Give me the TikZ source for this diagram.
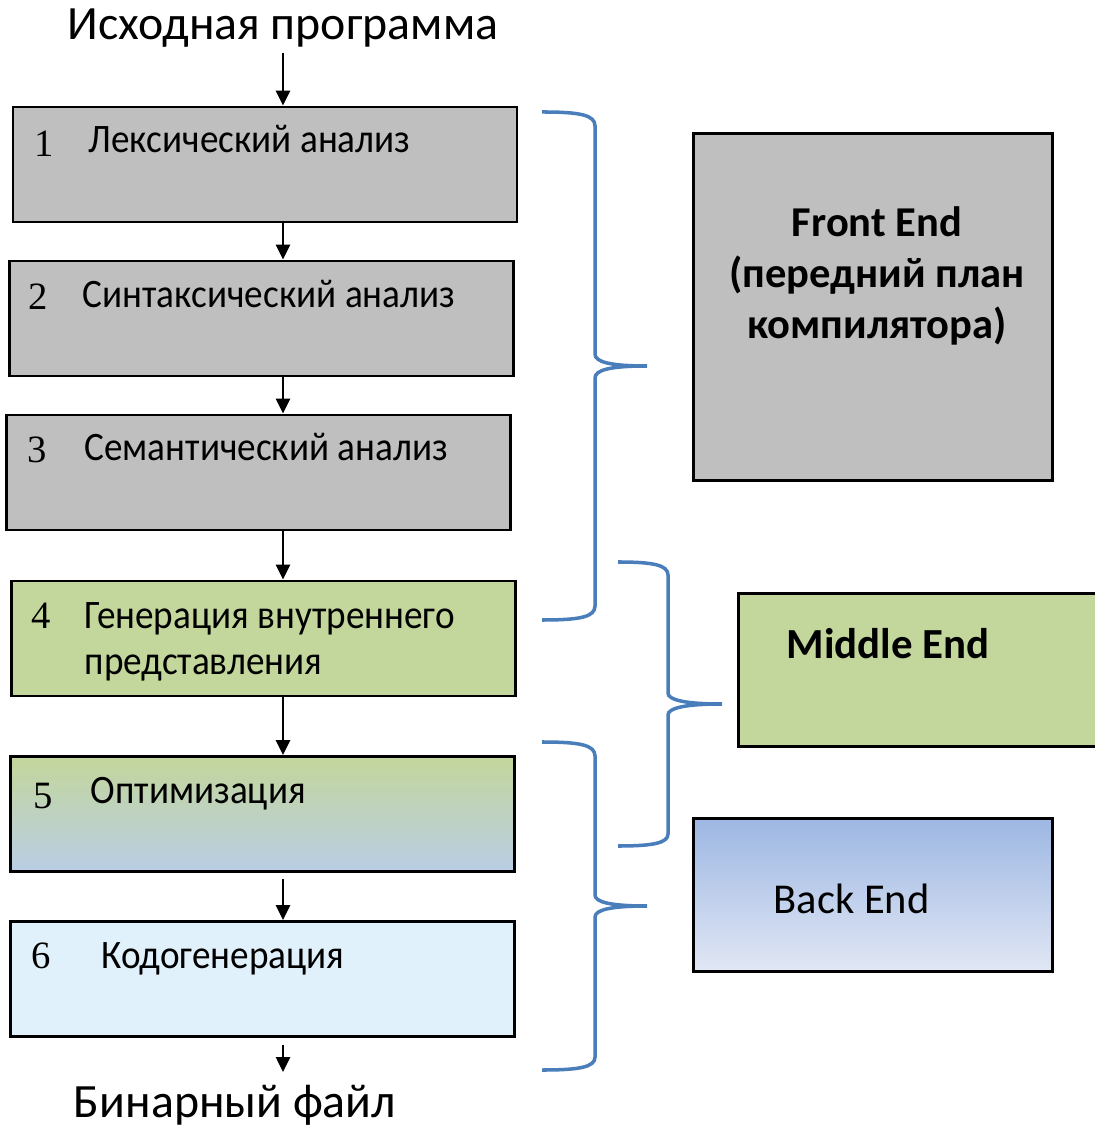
\documentclass[tikz,border=0pt]{standalone}
\usepackage{fontspec}
\setmainfont{Carlito}
\newfontfamily\numfont{Liberation Serif}
\newfontfamily\boxfont[FakeStretch=0.92]{Carlito}
\usetikzlibrary{arrows.meta}

\definecolor{stgray}{HTML}{BFBFBF}
\definecolor{stgreen}{HTML}{C3D69B}
\definecolor{stsky}{HTML}{B9CDE5}
\definecolor{stice}{HTML}{E1F1FC}
\definecolor{backtop}{HTML}{9DB7E3}
\definecolor{backbot}{HTML}{E1E7F4}
\definecolor{bracecol}{HTML}{4A7EBB}

\begin{document}
\begin{tikzpicture}[>=stealth,
    stage/.style={draw, line width=0.8pt, inner sep=0pt, minimum width=5.04cm, minimum height=1.15cm},
    part/.style={draw, line width=0.8pt, inner sep=0pt},
    num/.style={anchor=base west, inner sep=0pt, font=\numfont\fontsize{11}{13}\selectfont},
    lbl/.style={anchor=base west, inner sep=0pt, font=\boxfont\fontsize{11.5}{14}\selectfont},
    io/.style={anchor=base, inner sep=0pt, font=\fontsize{13.6}{16}\selectfont},
    arr/.style={line width=0.7pt, -{Triangle[length=0.15cm, width=0.14cm]}},
    brc/.style={draw=bracecol, line width=1pt}]

    \useasboundingbox (0,0) rectangle (10.94,-11.27);

    % Input and output texts
    \node[io] (src) at (2.83,-0.40) {Исходная программа};
    \node[io] (bin) at (2.35,-11.17) {Бинарный файл};

    % Stages of the compiler
    \node[stage, fill=stgray] (lex) at (2.65,-1.645) {};
    \node[stage, fill=stgray] (syn) at (2.615,-3.185) {};
    \node[stage, fill=stgray] (sem) at (2.585,-4.725) {};
    \node[stage, fill=stgreen] (gen) at (2.635,-6.385) {};
    \node[stage, top color=stgreen, bottom color=stsky] (opt) at (2.625,-8.14) {};
    \node[stage, fill=stice] (cod) at (2.625,-9.79) {};

    % Numbers and names of the stages
    \node[num] (n1) at (0.34,-1.57) {1};
    \node[lbl] (t1) at (0.88,-1.53) {Лексический анализ};
    \node[num] (n2) at (0.28,-3.10) {2};
    \node[lbl] (t2) at (0.82,-3.08) {Синтаксический анализ};
    \node[num] (n3) at (0.27,-4.63) {3};
    \node[lbl] (t3) at (0.84,-4.61) {Семантический анализ};
    \node[num] (n4) at (0.31,-6.29) {4};
    \node[lbl] (t4) at (0.84,-6.29) {Генерация внутреннего};
    \node[lbl] (t4b) at (0.84,-6.74) {представления};
    \node[num] (n5) at (0.33,-8.08) {5};
    \node[lbl] (t5) at (0.90,-8.03) {Оптимизация};
    \node[num] (n6) at (0.31,-9.68) {6};
    \node[lbl] (t6) at (1.01,-9.68) {Кодогенерация};

    % Arrows down the chain
    \coordinate (ax) at (2.83,0);
    \draw[arr] (src.south -| ax) ++(0,-0.04) -- (lex.north -| ax);
    \draw[arr] (lex.south -| ax) -- (syn.north -| ax);
    \draw[arr] (syn.south -| ax) -- (sem.north -| ax);
    \draw[arr] (sem.south -| ax) -- (gen.north -| ax);
    \draw[arr] (gen.south -| ax) -- (opt.north -| ax);
    \draw[arr, shorten <=0.06cm] (opt.south -| ax) -- (cod.north -| ax);
    \draw[arr, shorten <=0.07cm, shorten >=0.12cm] (cod.south -| ax) -- (bin.north -| ax);

    % Parts of the compiler
    \node[part, fill=stgray, anchor=north west, minimum width=3.59cm, minimum height=3.47cm] (front) at (6.92,-1.32) {};
    \node[align=center, font=\bfseries\fontsize{12.1}{14.4}\selectfont] (frontlbl) at (8.77,-2.76) {Front End\\(передний план\\компилятора)};
    \node[part, fill=stgreen, anchor=north west, minimum width=3.9cm, minimum height=1.53cm] (middle) at (7.37,-5.92) {};
    \node[anchor=base west, inner sep=0pt, font=\bfseries\fontsize{12.2}{15}\selectfont] (middlelbl) at (7.86,-6.59) {Middle End};
    \node[part, top color=backtop, bottom color=backbot, anchor=north west, minimum width=3.59cm, minimum height=1.53cm] (back) at (6.92,-8.17) {};
    \node[anchor=base west, inner sep=0pt, font=\fontsize{12.1}{15}\selectfont] (backlbl) at (7.73,-9.13) {Back End};

    % Braces grouping the stages
    \draw[brc] (5.42,-1.12) .. controls (5.80,-1.12) and (5.95,-1.15) .. (5.95,-1.26) -- (5.95,-3.54)
        .. controls (5.95,-3.62) and (6.10,-3.66) .. (6.47,-3.66)
        .. controls (6.10,-3.66) and (5.95,-3.70) .. (5.95,-3.78) -- (5.95,-6.06)
        .. controls (5.95,-6.17) and (5.80,-6.20) .. (5.42,-6.20);
    \draw[brc] (6.18,-5.62) .. controls (6.53,-5.62) and (6.68,-5.65) .. (6.68,-5.75) -- (6.68,-6.93)
        .. controls (6.68,-7.00) and (6.85,-7.04) .. (7.22,-7.04)
        .. controls (6.85,-7.04) and (6.68,-7.08) .. (6.68,-7.15) -- (6.68,-8.34)
        .. controls (6.68,-8.43) and (6.53,-8.46) .. (6.18,-8.46);
    \draw[brc] (5.42,-7.42) .. controls (5.80,-7.42) and (5.95,-7.45) .. (5.95,-7.56) -- (5.95,-8.95)
        .. controls (5.95,-9.02) and (6.10,-9.06) .. (6.47,-9.06)
        .. controls (6.10,-9.06) and (5.95,-9.10) .. (5.95,-9.17) -- (5.95,-10.57)
        .. controls (5.95,-10.67) and (5.80,-10.70) .. (5.42,-10.70);

\end{tikzpicture}
\end{document}
